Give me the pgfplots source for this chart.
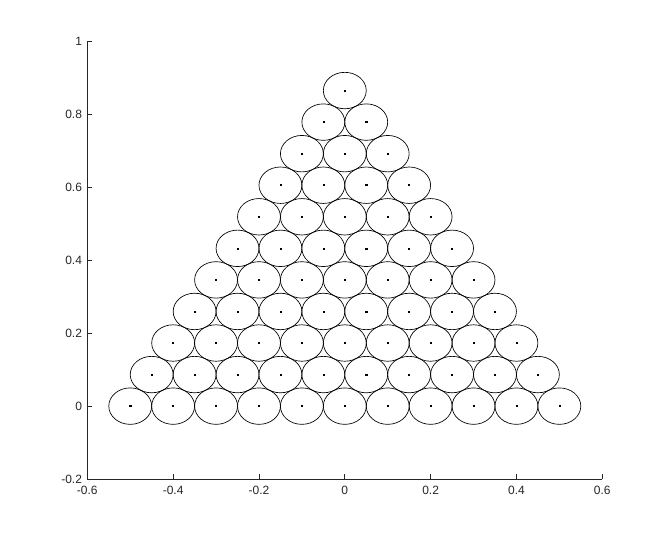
\documentclass[border=0pt]{standalone}
\usepackage{pgfplots}
\pgfplotsset{compat=1.18}
\usepackage{pgfplotstable}
\usepackage{fontspec}
\setmainfont{Liberation Sans}
\definecolor{axgray}{rgb}{0.15,0.15,0.15}

% circle centres of the triangular packing (radius 0.05)
\pgfplotstableread{
x y
-0.50 0
-0.40 0
-0.30 0
-0.20 0
-0.10 0
0.00 0
0.10 0
0.20 0
0.30 0
0.40 0
0.50 0
-0.45 0.0866
-0.35 0.0866
-0.25 0.0866
-0.15 0.0866
-0.05 0.0866
0.05 0.0866
0.15 0.0866
0.25 0.0866
0.35 0.0866
0.45 0.0866
-0.40 0.1732
-0.30 0.1732
-0.20 0.1732
-0.10 0.1732
0.00 0.1732
0.10 0.1732
0.20 0.1732
0.30 0.1732
0.40 0.1732
-0.35 0.2598
-0.25 0.2598
-0.15 0.2598
-0.05 0.2598
0.05 0.2598
0.15 0.2598
0.25 0.2598
0.35 0.2598
-0.30 0.3464
-0.20 0.3464
-0.10 0.3464
0.00 0.3464
0.10 0.3464
0.20 0.3464
0.30 0.3464
-0.25 0.4330
-0.15 0.4330
-0.05 0.4330
0.05 0.4330
0.15 0.4330
0.25 0.4330
-0.20 0.5196
-0.10 0.5196
0.00 0.5196
0.10 0.5196
0.20 0.5196
-0.15 0.6062
-0.05 0.6062
0.05 0.6062
0.15 0.6062
-0.10 0.6928
0.00 0.6928
0.10 0.6928
-0.05 0.7794
0.05 0.7794
0.00 0.8660
}\centres

% ellipse mark: radius 0.05 in data units on both axes
\pgfdeclareplotmark{ell}{%
  \pgfpathellipse{\pgfpointorigin}{\pgfqpoint{16.09pt}{0pt}}{\pgfqpoint{0pt}{13.67pt}}%
  \pgfusepathqstroke}

\begin{document}
\begin{tikzpicture}
\path[fill=white, use as bounding box] (-65.5pt,-46.5pt) rectangle (434.05pt,359.3pt);
\begin{axis}[
  at={(0,0)}, anchor=south west,
  scale only axis,
  width=386.25pt, height=328pt,
  xmin=-0.6, xmax=0.6,
  ymin=-0.2, ymax=1,
  axis lines*=left,
  axis line style={color=axgray, line width=0.5pt},
  tick align=inside,
  major tick length=3.75pt,
  tick style={color=axgray, line width=0.5pt},
  xtick={-0.6,-0.4,-0.2,0,0.2,0.4,0.6},
  xticklabels={-0.6,-0.4,-0.2,0,0.2,0.4,0.6},
  ytick={-0.2,0,0.2,0.4,0.6,0.8,1},
  yticklabels={-0.2,0,0.2,0.4,0.6,0.8,1},
  tick label style={font=\fontsize{9}{10.5}\selectfont, color=axgray},
  xticklabel style={yshift=-1.5pt},
  yticklabel style={xshift=-0.5pt},
  clip=false,
]
\addplot[only marks, mark=ell, black, line width=0.5pt] table[x=x, y=y] {\centres};
\addplot[only marks, mark=square*, mark size=0.4pt, black] table[x=x, y=y] {\centres};
\end{axis}
\end{tikzpicture}
\end{document}
